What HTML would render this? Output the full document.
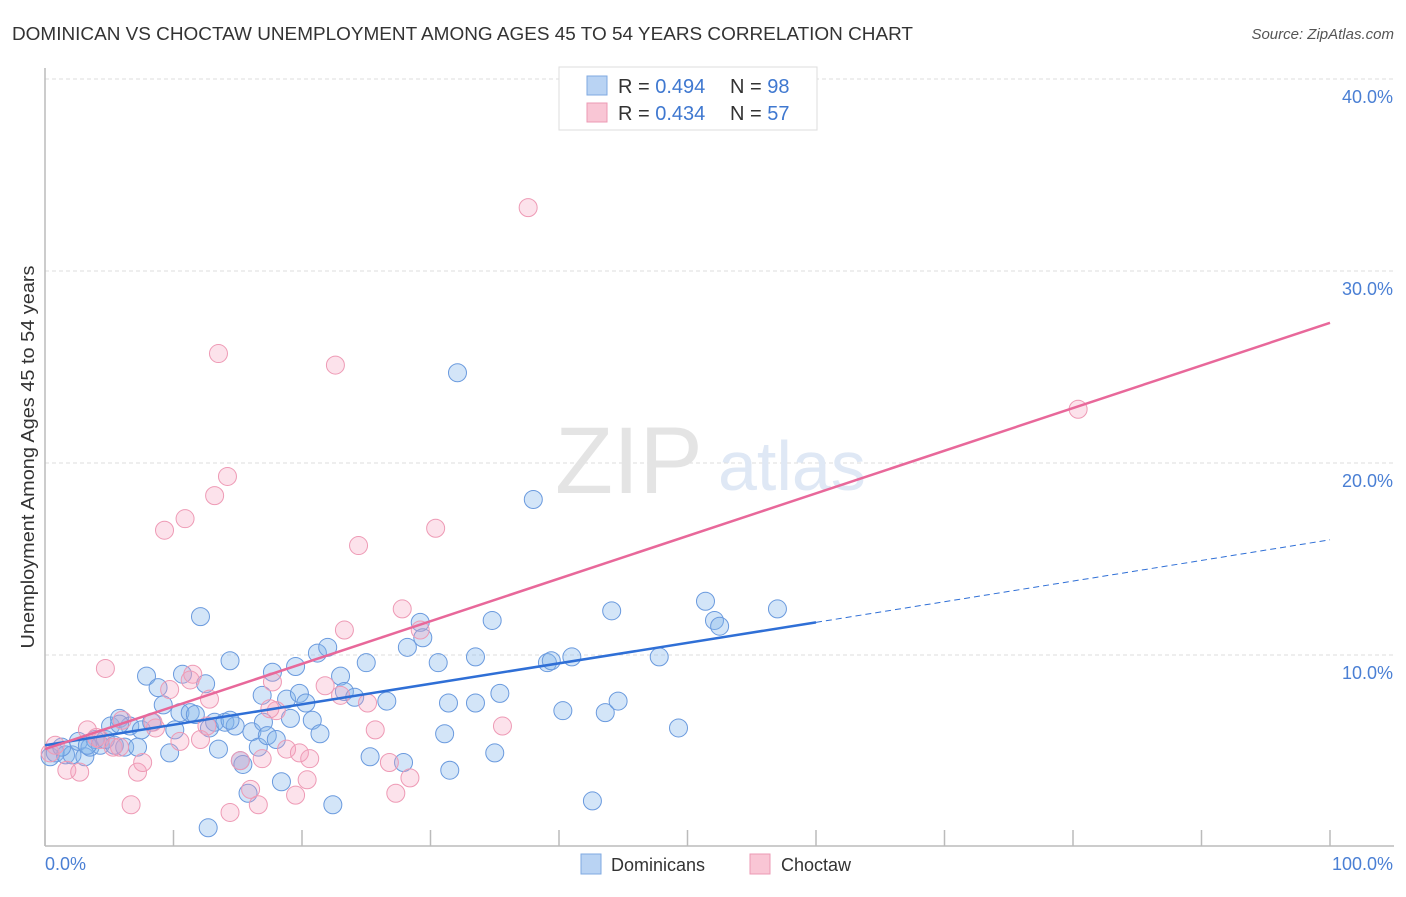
<!DOCTYPE html>
<html><head><meta charset="utf-8"><style>
body{margin:0;background:#fff;font-family:"Liberation Sans",sans-serif}
svg text{font-family:"Liberation Sans",sans-serif}
</style></head><body>
<svg width="1406" height="892" xmlns="http://www.w3.org/2000/svg" id="chart">
<text x="12" y="40" font-size="18" fill="#333" textLength="901" lengthAdjust="spacingAndGlyphs">DOMINICAN VS CHOCTAW UNEMPLOYMENT AMONG AGES 45 TO 54 YEARS CORRELATION CHART</text>
<text x="1394" y="39" font-size="15" fill="#555" font-style="italic" text-anchor="end">Source: ZipAtlas.com</text>
<g id="grid"></g>
<text x="555" y="493" font-size="95" font-family="Liberation Serif" fill="#e4e4e4">ZIP</text>
<text x="718" y="490" font-size="70" fill="#dfe8f5">atlas</text>
<line x1="45" y1="68" x2="45" y2="846" stroke="#bbb" stroke-width="1.5"/>
<line x1="45" y1="846" x2="1394" y2="846" stroke="#bbb" stroke-width="1.5"/>
<g id="ticks"></g>
<g id="points"></g>
<g id="trends"></g>
<text transform="translate(34,457) rotate(-90)" font-size="18" fill="#333" text-anchor="middle" textLength="383" lengthAdjust="spacingAndGlyphs">Unemployment Among Ages 45 to 54 years</text>
<text x="45" y="870" font-size="18" fill="#4a7fd4">0.0%</text>
<text x="1393" y="870" font-size="18" fill="#4a7fd4" text-anchor="end">100.0%</text>
<g>
<rect x="559" y="67" width="258" height="63" fill="#fff" stroke="#ddd"/>
<rect x="587" y="76" width="20" height="19" fill="#b9d3f3" stroke="#7fa9e2"/>
<rect x="587" y="103" width="20" height="19" fill="#f9c6d5" stroke="#ec9ab4"/>
<text x="618" y="93" font-size="20" fill="#333">R = <tspan fill="#3f78d0">0.494</tspan></text>
<text x="730" y="93" font-size="20" fill="#333">N = <tspan fill="#3f78d0">98</tspan></text>
<text x="618" y="120" font-size="20" fill="#333">R = <tspan fill="#3f78d0">0.434</tspan></text>
<text x="730" y="120" font-size="20" fill="#333">N = <tspan fill="#3f78d0">57</tspan></text>
</g>
<g>
<rect x="581" y="854" width="20" height="20" fill="#b9d3f3" stroke="#7fa9e2"/>
<text x="611" y="871" font-size="18" fill="#333">Dominicans</text>
<rect x="750" y="854" width="20" height="20" fill="#f9c6d5" stroke="#ec9ab4"/>
<text x="781" y="871" font-size="18" fill="#333">Choctaw</text>
</g>
</svg>
<script>
const yTicks=[10,20,30,40];
const yTickLabels=["10.0%","20.0%","30.0%","40.0%"];
const xTicks=[0,10,20,30,40,50,60,70,80,90,100];
const domX=[0.4,0.8,1.6,2.1,2.6,3.1,3.5,3.9,4.3,4.7,5.1,5.4,5.8,6.2,6.6,7.2,7.5,7.9,8.3,8.8,9.2,9.7,10.1,10.5,10.7,11.3,11.7,12.1,12.5,12.8,13.2,13.5,14.0,14.4,14.8,15.2,15.4,15.8,16.1,16.6,17.0,17.3,17.7,18.0,18.4,18.8,19.1,19.5,19.8,20.3,20.8,21.2,21.4,22.0,22.4,23.0,23.3,24.1,25.0,25.3,26.6,27.9,28.2,29.2,29.4,30.6,31.1,31.4,31.5,32.1,33.5,33.5,35.0,35.4,34.8,38.0,39.1,39.4,40.3,41.0,42.6,43.6,44.1,44.6,47.8,49.3,51.4,52.1,52.5,57.0,12.7,14.4,16.9,5.8,1.3,3.3];
const domY=[4.7,4.9,4.8,4.8,5.5,4.7,5.2,5.6,5.3,5.6,6.3,5.3,6.7,5.2,6.3,5.2,6.1,8.9,6.5,8.3,7.4,4.9,6.1,7.0,9.0,7.0,6.9,12.0,8.5,6.2,6.5,5.1,6.5,9.7,6.3,4.5,4.3,2.8,6.0,5.2,6.5,5.8,9.1,5.6,3.4,7.7,6.7,9.4,8.0,7.5,6.6,10.1,5.9,10.4,2.2,8.9,8.1,7.8,9.6,4.7,7.6,4.4,10.4,11.7,10.9,9.6,5.9,7.5,4.0,24.7,7.5,9.9,4.9,8.0,11.8,18.1,9.6,9.7,7.1,9.9,2.4,7.0,12.3,7.6,9.9,6.2,12.8,11.8,11.5,12.4,1.0,6.6,7.9,6.4,5.2,5.3];
const choX=[0.4,0.8,1.7,2.7,3.3,4.0,4.7,5.3,6.0,6.7,7.2,7.6,8.6,9.3,9.7,10.5,10.9,11.3,11.5,12.1,12.6,13.2,13.5,14.2,14.4,15.2,16.0,16.6,16.9,17.7,18.0,18.8,19.5,19.8,20.4,20.6,21.8,22.6,23.0,23.3,24.4,25.1,25.7,26.8,27.3,27.8,28.4,29.2,30.4,35.6,37.6,80.4,5.8,8.4,12.8,17.5,4.3];
const choY=[4.9,5.3,4.0,3.9,6.1,5.7,9.3,5.2,6.6,2.2,3.9,4.4,6.2,16.5,8.2,5.5,17.1,8.7,9.0,5.6,6.3,18.3,25.7,19.3,1.8,4.5,3.0,2.2,4.6,8.6,7.1,5.1,2.7,4.9,3.5,4.6,8.4,25.1,7.9,11.3,15.7,7.5,6.1,4.4,2.8,12.4,3.6,11.3,16.6,6.3,33.3,22.8,5.2,6.5,7.7,7.2,5.6];
const domTrend=[5.3,11.7,16.0];
const domTrendX=[0,60,100];
const choTrend=[5.1,27.3];
const choTrendX=[0,100];

const NS="http://www.w3.org/2000/svg";
const sx=v=>45+v*12.85;
const sy=v=>847-v*19.2;
function mk(tag,attrs,parent){const e=document.createElementNS(NS,tag);for(const k in attrs)e.setAttribute(k,attrs[k]);parent.appendChild(e);return e;}
const grid=document.getElementById('grid');
yTicks.forEach((t,i)=>{
  const l=mk('line',{x1:45,x2:1394,y1:sy(t),y2:sy(t),stroke:'#ddd','stroke-dasharray':'4,3'},grid);
  
  
  const tx=mk('text',{x:1393,y:sy(t)+24,'font-size':18,fill:'#4a7fd4','text-anchor':'end'},grid);
  tx.textContent=yTickLabels[i];
  
  
});
const ticks=document.getElementById('ticks');
xTicks.forEach(t=>{
  const l=mk('line',{x1:sx(t),x2:sx(t),y1:830,y2:846,stroke:'#bbb','stroke-width':1.5},ticks);
  
  
});
const pts=document.getElementById('points');
domX.forEach((x,i)=>{
  const c=mk('circle',{cx:sx(x),cy:sy(domY[i]),r:9,fill:'rgba(130,180,235,0.35)',stroke:'#6a9ade','stroke-width':1},pts);
  
  
});
choX.forEach((x,i)=>{
  const c=mk('circle',{cx:sx(x),cy:sy(choY[i]),r:9,fill:'rgba(245,160,190,0.3)',stroke:'#ee9ab5','stroke-width':1},pts);
  
  
});
const tr=document.getElementById('trends');
let l1=mk('line',{x1:sx(domTrendX[0]),y1:sy(domTrend[0]),x2:sx(domTrendX[1]),y2:sy(domTrend[1]),stroke:'#2f6fd6','stroke-width':2.5},tr);


let l2=mk('line',{x1:sx(domTrendX[1]),y1:sy(domTrend[1]),x2:sx(domTrendX[2]),y2:sy(domTrend[2]),stroke:'#2f6fd6','stroke-width':1,'stroke-dasharray':'6,4'},tr);


let l3=mk('line',{x1:sx(choTrendX[0]),y1:sy(choTrend[0]),x2:sx(choTrendX[1]),y2:sy(choTrend[1]),stroke:'#e8689a','stroke-width':2.5},tr);


</script>
</body></html>
